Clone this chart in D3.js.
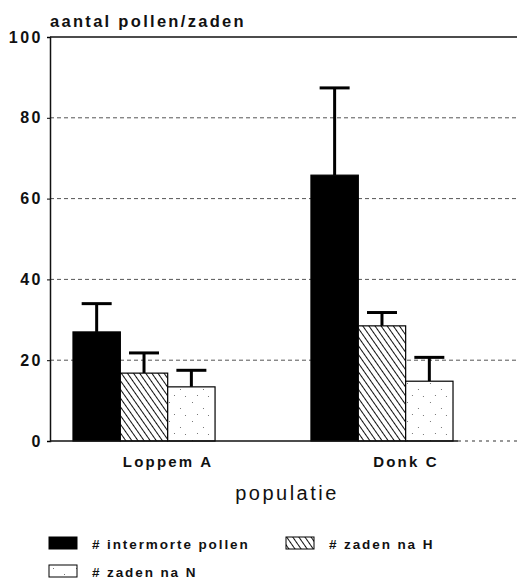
<!DOCTYPE html>
<html>
<head>
<meta charset="utf-8">
<script src="https://cdn.jsdelivr.net/npm/d3@7"></script>
<style>
  body { margin: 0; background: #fff; }
  text { font-family: "Liberation Sans", Arial, sans-serif; fill: #111; }
</style>
</head>
<body>
<svg width="517" height="581"></svg>
<script>
var categories = ["Loppem A", "Donk C"];
var series = ["# intermorte pollen", "# zaden na H", "# zaden na N"];
var means = [[27, 16.8, 13.4], [65.8, 28.5, 14.8]];
var errTops = [[34, 21.8, 17.5], [87.4, 31.8, 20.7]];
var yTicks = [0, 20, 40, 60, 80, 100];

var svg = d3.select("svg");

var defs = svg.append("defs");
var hatch = defs.append("pattern")
  .attr("id", "hatch")
  .attr("patternUnits", "userSpaceOnUse")
  .attr("width", 5).attr("height", 5)
  .attr("patternTransform", "rotate(-35)");
hatch.append("rect").attr("width", 5).attr("height", 5).attr("fill", "#fff");
hatch.append("line").attr("x1", 0).attr("y1", 0).attr("x2", 0).attr("y2", 5)
  .attr("stroke", "#111").attr("stroke-width", 2);

var dots = defs.append("pattern")
  .attr("id", "dots")
  .attr("patternUnits", "userSpaceOnUse")
  .attr("width", 23).attr("height", 19);
dots.append("rect").attr("width", 23).attr("height", 19).attr("fill", "#fff");
[[4, 3], [15, 9], [9, 15], [20, 16]].forEach(function(p) {
  dots.append("rect").attr("x", p[0]).attr("y", p[1]).attr("width", 1).attr("height", 1).attr("fill", "#777");
});

var fills = ["#000", "url(#hatch)", "url(#dots)"];

var y = d3.scaleLinear().domain([0, 100]).range([441, 37]);
var x0 = d3.scaleBand().domain(categories).range([50, 476]).paddingInner(0.403).paddingOuter(0.0966);
var x1 = d3.scaleBand().domain(series).range([0, x0.bandwidth()]);

// gridlines
svg.append("g").selectAll("line")
  .data(yTicks.filter(function(d) { return d > 0 && d < 100; }))
  .enter().append("line")
  .attr("x1", 50).attr("x2", 517)
  .attr("y1", function(d) { return y(d); }).attr("y2", function(d) { return y(d); })
  .attr("stroke", "#555").attr("stroke-width", 1)
  .attr("stroke-dasharray", "4,3");

// top line at 100
svg.append("line")
  .attr("x1", 50).attr("x2", 517).attr("y1", y(100)).attr("y2", y(100))
  .attr("stroke", "#111").attr("stroke-width", 1.5);

// bars
var groups = svg.append("g").selectAll("g")
  .data(categories)
  .enter().append("g")
  .attr("transform", function(d) { return "translate(" + x0(d) + ",0)"; });

groups.each(function(cat, ci) {
  var g = d3.select(this);
  series.forEach(function(s, si) {
    var bx = x1(s), bw = x1.bandwidth(), cx = bx + bw / 2;
    g.append("line")
      .attr("x1", cx).attr("x2", cx)
      .attr("y1", y(means[ci][si])).attr("y2", y(errTops[ci][si]))
      .attr("stroke", "#000").attr("stroke-width", 3);
    g.append("line")
      .attr("x1", cx - 15).attr("x2", cx + 15)
      .attr("y1", y(errTops[ci][si])).attr("y2", y(errTops[ci][si]))
      .attr("stroke", "#000").attr("stroke-width", 3);
    g.append("rect")
      .attr("x", bx).attr("width", bw)
      .attr("y", y(means[ci][si])).attr("height", y(0) - y(means[ci][si]))
      .attr("fill", fills[si])
      .attr("stroke", "#000").attr("stroke-width", 1.2);
  });
});

// baseline
svg.append("line")
  .attr("x1", 50).attr("x2", 458).attr("y1", y(0)).attr("y2", y(0))
  .attr("stroke", "#111").attr("stroke-width", 1.5);
svg.append("line")
  .attr("x1", 458).attr("x2", 517).attr("y1", y(0)).attr("y2", y(0))
  .attr("stroke", "#333").attr("stroke-width", 1.2).attr("stroke-dasharray", "3,4");

// y axis
var yAxis = svg.append("g")
  .attr("transform", "translate(50,0)")
  .call(d3.axisLeft(y).tickValues(yTicks).tickSize(3).tickPadding(4));
yAxis.select(".domain").attr("stroke", "#111").attr("stroke-width", 1.5);
yAxis.selectAll("text")
  .style("font-family", "'Liberation Sans', Arial, sans-serif")
  .style("font-size", "16px").style("font-weight", "bold")
  .style("letter-spacing", "2.5px").attr("fill", "#111");

svg.append("text")
  .attr("x", 50).attr("y", 27)
  .style("font-size", "16.5px").style("font-weight", "bold").style("letter-spacing", "2.3px")
  .text("aantal pollen/zaden");

// category labels
svg.append("g").selectAll("text")
  .data(categories)
  .enter().append("text")
  .attr("x", function(d) { return x0(d) + x0.bandwidth() / 2 + 24; })
  .attr("y", 467)
  .attr("text-anchor", "middle")
  .style("font-size", "15px").style("font-weight", "bold").style("letter-spacing", "2.2px")
  .text(function(d) { return d; });

svg.append("text")
  .attr("x", 287).attr("y", 500)
  .attr("text-anchor", "middle")
  .style("font-size", "20px").style("letter-spacing", "2.5px")
  .text("populatie");

// legend
var legendPos = [[49, 537], [286, 537], [49, 565]];
var legend = svg.append("g").selectAll("g")
  .data(series)
  .enter().append("g")
  .attr("transform", function(d, i) { return "translate(" + legendPos[i][0] + "," + legendPos[i][1] + ")"; });
legend.append("rect")
  .attr("width", 28).attr("height", 12)
  .attr("fill", function(d, i) { return fills[i]; })
  .attr("stroke", "#000").attr("stroke-width", 1);
legend.append("text")
  .attr("x", 43).attr("y", 12)
  .style("font-size", "13.5px").style("font-weight", "bold").style("letter-spacing", "1.9px")
  .text(function(d) { return d; });
</script>
</body>
</html>
